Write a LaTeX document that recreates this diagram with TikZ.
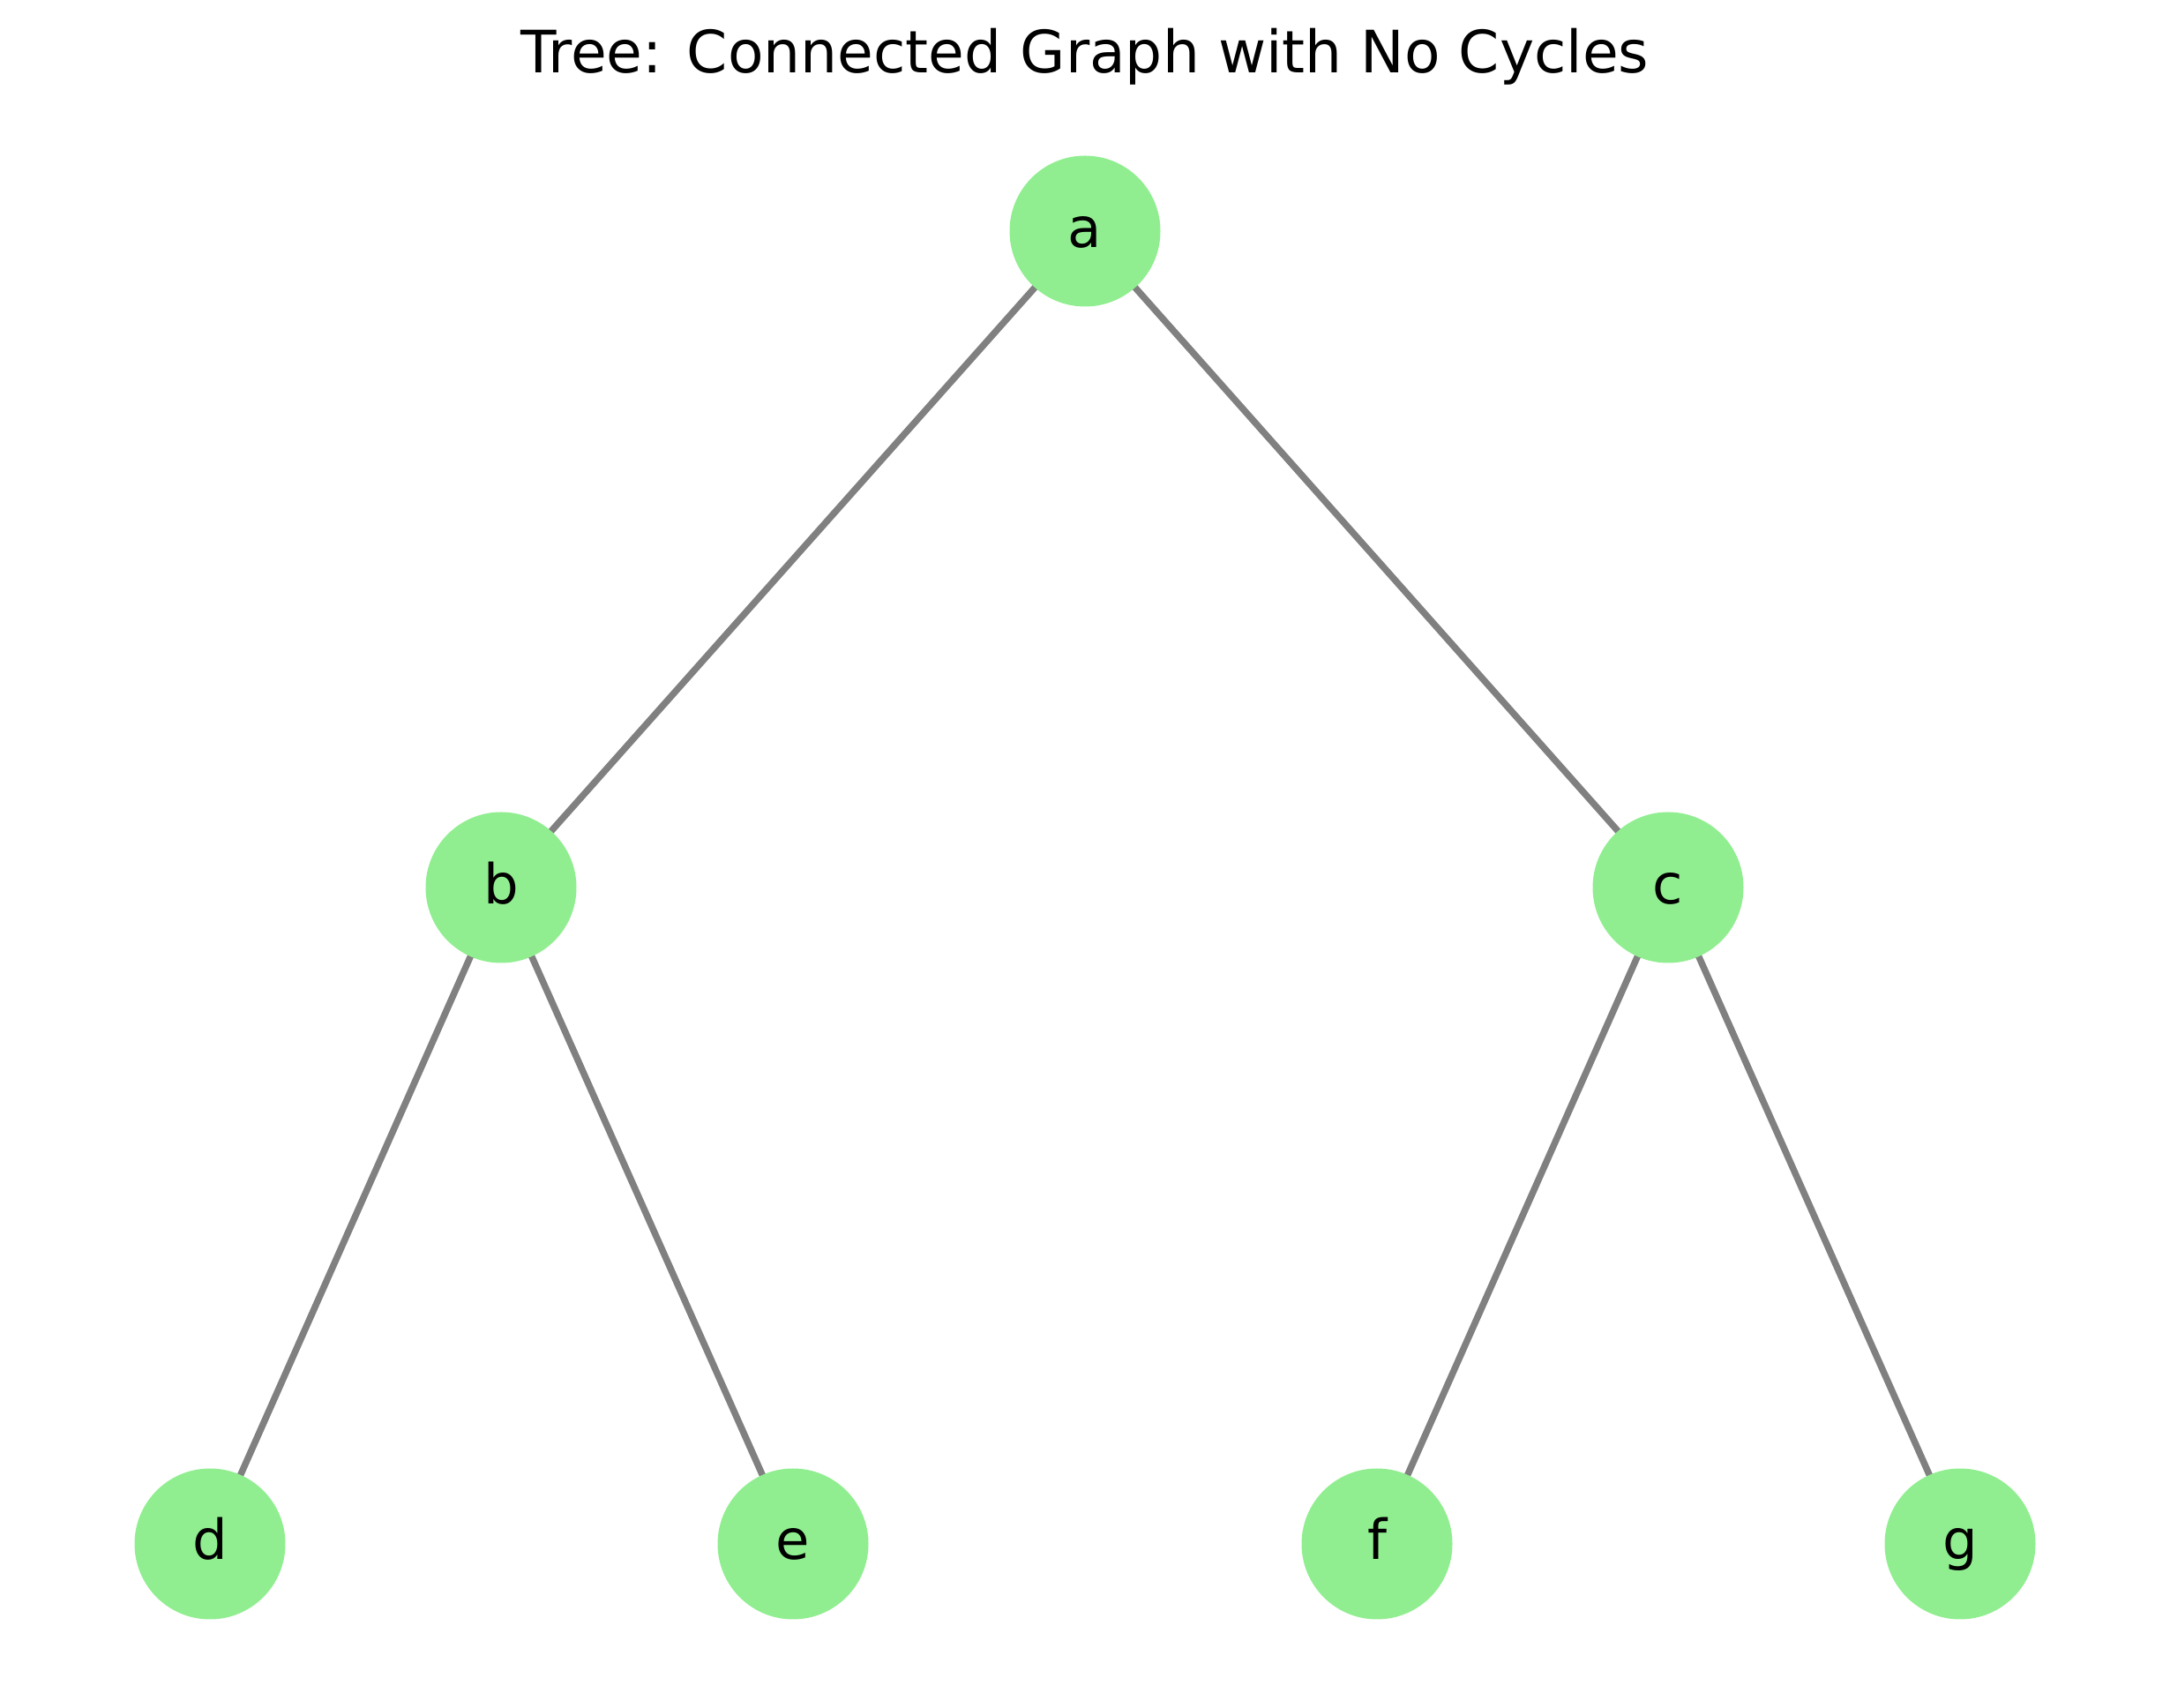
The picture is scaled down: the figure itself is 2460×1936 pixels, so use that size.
\documentclass[tikz,border=0pt]{standalone}
\usepackage{fontspec}
\setmainfont{DejaVu Sans}
\usetikzlibrary{backgrounds}
\definecolor{nodegreen}{HTML}{90EE90}
\definecolor{edgegray}{HTML}{808080}
\tikzset{
  vertex/.style={circle, fill=nodegreen, draw=none, minimum size=171*0.24pt, inner sep=0pt},
  vlabel/.style={anchor=base, inner sep=0pt, font=\fontsize{15}{18}\selectfont},
  edge/.style={draw=edgegray, line width=1.8pt}
}
\begin{document}
\begin{tikzpicture}[x=0.24pt, y=-0.24pt]
\useasboundingbox (0,0) rectangle (2460,1936);
\node[anchor=base, inner sep=0pt, font=\fontsize{15.9}{19}\selectfont] (title) at (1230,83) {Tree: Connected Graph with No Cycles};
\node[vertex] (a) at (1230,262) {};
\node[vertex] (b) at (568,1006) {};
\node[vertex] (c) at (1891,1006) {};
\node[vertex] (d) at (238,1750) {};
\node[vertex] (e) at (899,1750) {};
\node[vertex] (f) at (1561,1750) {};
\node[vertex] (g) at (2222,1750) {};
\node[vlabel] (la) at (1230,281) {a};
\node[vlabel] (lb) at (568,1025) {b};
\node[vlabel] (lc) at (1891,1025) {c};
\node[vlabel] (ld) at (238,1768) {d};
\node[vlabel] (le) at (899,1768) {e};
\node[vlabel] (lf) at (1561,1768) {f};
\node[vlabel] (lg) at (2222,1768) {g};
\begin{pgfonlayer}{background}
\draw[edge] (a.center) -- (b.center);
\draw[edge] (a.center) -- (c.center);
\draw[edge] (b.center) -- (d.center);
\draw[edge] (b.center) -- (e.center);
\draw[edge] (c.center) -- (f.center);
\draw[edge] (c.center) -- (g.center);
\end{pgfonlayer}
\end{tikzpicture}
\end{document}
